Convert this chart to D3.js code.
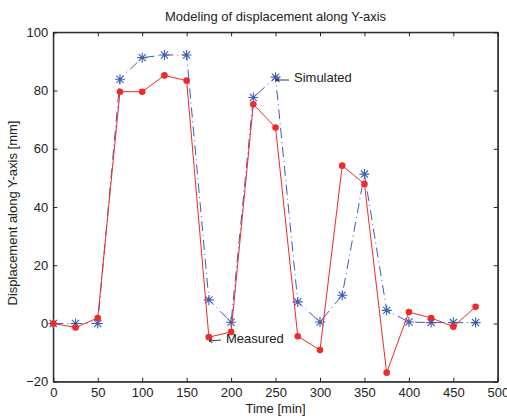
<!DOCTYPE html>
<html><head><meta charset="utf-8">
<script src="https://cdn.jsdelivr.net/npm/d3@7"></script>
<style>body{margin:0;background:#fff}svg{display:block}text{font-family:"Liberation Sans",Arial,sans-serif;fill:#222}</style>
</head><body>
<svg id="c" width="507" height="419"></svg>
<script>
const times = [0,25,50,75,100,125,150,175,200,225,250,275,300,325,350,375,400,425,450,475];
const measured = [0,-1.4,1.9,79.6,79.6,85.2,83.4,-4.7,-2.9,75.3,67.3,-4.4,-9.1,54.2,47.9,-16.9,3.9,1.9,-1.1,5.7];
const simulated = [0,0,0,83.9,91.3,92.2,92.2,8.1,0.4,77.6,84.6,7.4,0.5,9.7,51.3,4.5,0.5,0.3,0.3,0.3];
const xTicks = [0,50,100,150,200,250,300,350,400,450,500];
const yTicks = [-20,0,20,40,60,80,100];
const titleText = "Modeling of displacement along Y-axis";
const xLabel = "Time [min]";
const yLabel = "Displacement along Y-axis [mm]";

const svg = d3.select("#c");
const L=53.3, R=497.8, T=32.3, B=381.7;
const x = d3.scaleLinear().domain([0,500]).range([L,R]);
const y = d3.scaleLinear().domain([-20,100]).range([B,T]);
const fs = 13;

const axStyle = g => { g.selectAll("path").attr("stroke","#222"); g.selectAll("line").attr("stroke","#222"); g.selectAll("text").attr("font-size",fs).attr("fill","#222").style("font-family","Liberation Sans, Arial, sans-serif"); };
svg.append("g").attr("transform",`translate(0,${B})`).call(d3.axisBottom(x).tickValues(xTicks).tickSize(-4).tickSizeOuter(0).tickPadding(6)).call(axStyle);
svg.append("g").attr("transform",`translate(0,${T})`).call(d3.axisTop(x).tickValues(xTicks).tickSize(-4).tickSizeOuter(0).tickFormat("")).call(axStyle);
svg.append("g").attr("transform",`translate(${L},0)`).call(d3.axisLeft(y).tickValues(yTicks).tickSize(-4).tickSizeOuter(0).tickPadding(5)).call(axStyle);
svg.append("g").attr("transform",`translate(${R},0)`).call(d3.axisRight(y).tickValues(yTicks).tickSize(-4).tickSizeOuter(0).tickFormat("")).call(axStyle);
svg.append("rect").attr("x",L).attr("y",T).attr("width",R-L).attr("height",B-T).attr("fill","none").attr("stroke","#222").attr("stroke-width",1);

const sim = times.map((t,i)=>[t,simulated[i]]);
const mea = times.map((t,i)=>[t,measured[i]]);
const line = d3.line().x(d=>x(d[0])).y(d=>y(d[1]));
const blue="#3d5db5", red="#ee2a2a";

svg.append("path").datum(sim).attr("d",line).attr("fill","none").attr("stroke",blue).attr("stroke-width",1).attr("stroke-dasharray","10,4,1,4");
const star = svg.append("g");
sim.forEach(d=>{
  const cx=x(d[0]), cy=y(d[1]), s=5, s2=3.6;
  star.append("path").attr("d",`M${cx-s},${cy}H${cx+s}M${cx},${cy-s}V${cy+s}M${cx-s2},${cy-s2}L${cx+s2},${cy+s2}M${cx-s2},${cy+s2}L${cx+s2},${cy-s2}`).attr("stroke",blue).attr("stroke-width",1.1).attr("fill","none");
});

svg.append("path").datum(mea).attr("d",line).attr("fill","none").attr("stroke",red).attr("stroke-width",1);
svg.append("g").selectAll("circle").data(mea).join("circle").attr("cx",d=>x(d[0])).attr("cy",d=>y(d[1])).attr("r",3.3).attr("fill",red);

// annotations
function arrow(x1,y1,x2,y2){
  svg.append("line").attr("x1",x1).attr("y1",y1).attr("x2",x2).attr("y2",y2).attr("stroke","#222").attr("stroke-width",0.9);
  const a=Math.atan2(y2-y1,x2-x1), h=4;
  svg.append("path").attr("d",`M${x2-h*Math.cos(a-0.5)},${y2-h*Math.sin(a-0.5)}L${x2},${y2}L${x2-h*Math.cos(a+0.5)},${y2-h*Math.sin(a+0.5)}`).attr("fill","none").attr("stroke","#222").attr("stroke-width",0.9);
}
arrow(289,80,276,80);
svg.append("text").attr("x",294).attr("y",82).attr("font-size",13).text("Simulated");
arrow(221,340,209,341);
svg.append("text").attr("x",226).attr("y",342.5).attr("font-size",13).text("Measured");

svg.append("text").attr("x",(L+R)/2).attr("y",21).attr("text-anchor","middle").attr("font-size",13).text(titleText);
svg.append("text").attr("x",(L+R)/2).attr("y",413).attr("text-anchor","middle").attr("font-size",13).text(xLabel);
svg.append("text").attr("transform",`translate(17,213) rotate(-90)`).attr("text-anchor","middle").attr("font-size",13).text(yLabel);
</script>
</body></html>
